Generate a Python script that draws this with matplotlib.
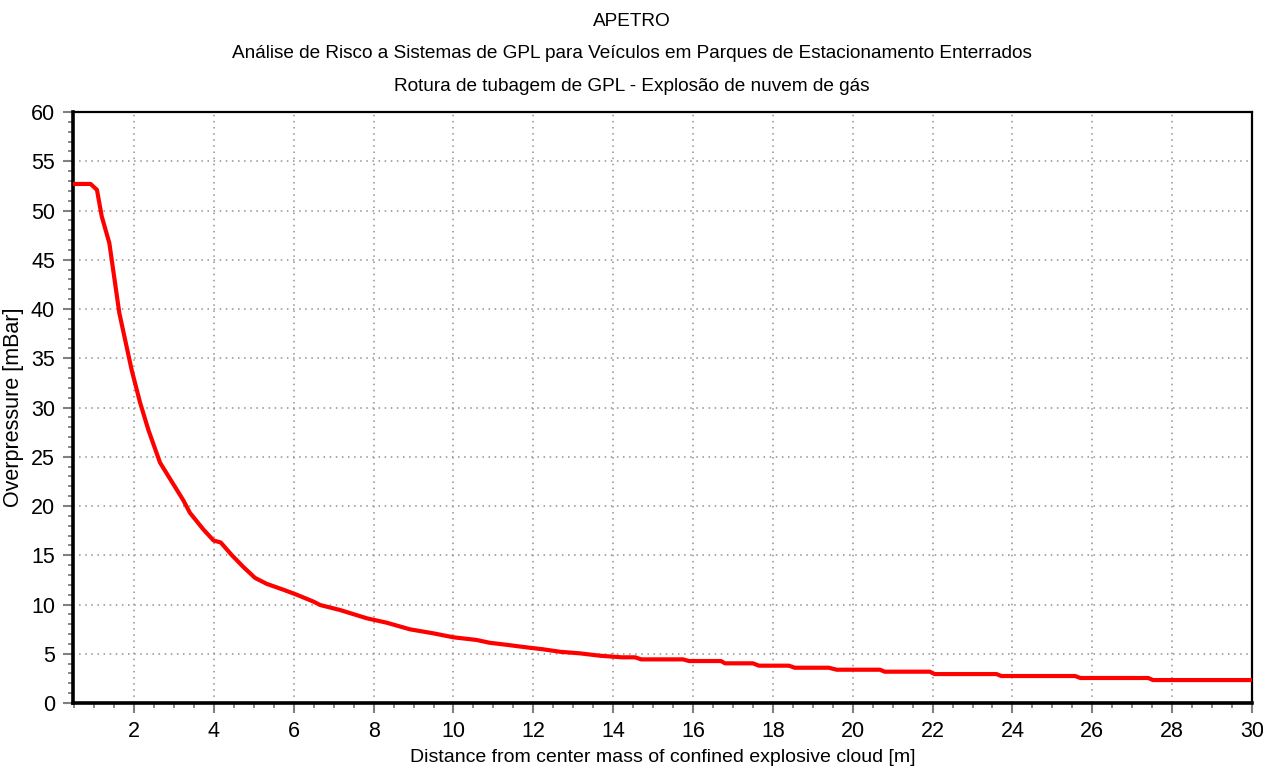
import matplotlib.pyplot as plt
from matplotlib.ticker import MultipleLocator

plt.rcParams["font.family"] = ["Liberation Sans", "DejaVu Sans"]

# Overpressure curve
distance = [0.47, 0.91, 1.07, 1.19, 1.38, 1.63, 1.94, 2.15, 2.36, 2.65,
            3.23, 3.40, 3.74, 3.99, 4.17, 4.45, 4.74, 5.03, 5.32, 5.74,
            6.07, 6.49, 6.66, 7.16, 7.83, 8.33, 8.91, 9.50, 10.0, 10.58,
            10.9, 11.37, 11.83, 12.25, 12.67, 13.17, 13.67, 14.21, 14.55,
            14.7, 15.75, 15.9, 16.7, 16.8, 17.5, 17.65, 18.4, 18.55, 19.4,
            19.6, 20.68, 20.8, 21.93, 22.05, 23.6, 23.72, 25.57, 25.7,
            27.4, 27.52, 30.0]
overpressure = [52.7, 52.7, 52.1, 49.4, 46.7, 39.6, 33.8, 30.5, 27.7, 24.4,
                20.6, 19.3, 17.6, 16.5, 16.3, 15.0, 13.8, 12.7, 12.1, 11.5,
                11.0, 10.3, 9.95, 9.44, 8.6, 8.15, 7.48, 7.07, 6.67, 6.4,
                6.12, 5.89, 5.65, 5.45, 5.2, 5.04, 4.8, 4.64, 4.64,
                4.43, 4.43, 4.26, 4.26, 4.03, 4.03, 3.79, 3.79, 3.58, 3.58,
                3.38, 3.38, 3.18, 3.18, 2.94, 2.94, 2.74, 2.74, 2.54,
                2.54, 2.33, 2.33]

title_lines = [
    "APETRO",
    "Análise de Risco a Sistemas de GPL para Veículos em Parques de Estacionamento Enterrados",
    "Rotura de tubagem de GPL - Explosão de nuvem de gás",
]

fig = plt.figure(figsize=(12.63, 7.70), dpi=100)
ax = fig.add_axes([0.0578, 0.087, 0.9335, 0.7675])

ax.plot(distance, overpressure, color="#ff0000", linewidth=3.0,
        solid_joinstyle="round", zorder=3)

ax.set_xlim(0.47, 30)
ax.set_ylim(0, 60)
ax.xaxis.set_major_locator(MultipleLocator(2))
ax.xaxis.set_minor_locator(MultipleLocator(0.5))
ax.yaxis.set_major_locator(MultipleLocator(5))
ax.yaxis.set_minor_locator(MultipleLocator(1))

ax.grid(True, which="major", color="#909090", linestyle=(0, (1, 3)),
        linewidth=1.1)

ax.tick_params(which="major", length=7, width=1.5, color="#808080",
               labelsize=15.5, pad=6)
ax.tick_params(which="minor", length=3.5, width=1.3, color="#808080")

for side in ("left", "bottom"):
    ax.spines[side].set_linewidth(2.6)
for side in ("top", "right"):
    ax.spines[side].set_linewidth(1.6)

ax.set_xlabel("Distance from center mass of confined explosive cloud [m]",
              fontsize=14, labelpad=5)
ax.set_ylabel("Overpressure [mBar]", fontsize=15.5, labelpad=5)

for i, line in enumerate(title_lines):
    fig.text(0.5, 1 - (26 + i * 32.5) / 770, line, ha="center",
             va="baseline", fontsize=13.7)

fig.savefig("out.png", dpi=100)
